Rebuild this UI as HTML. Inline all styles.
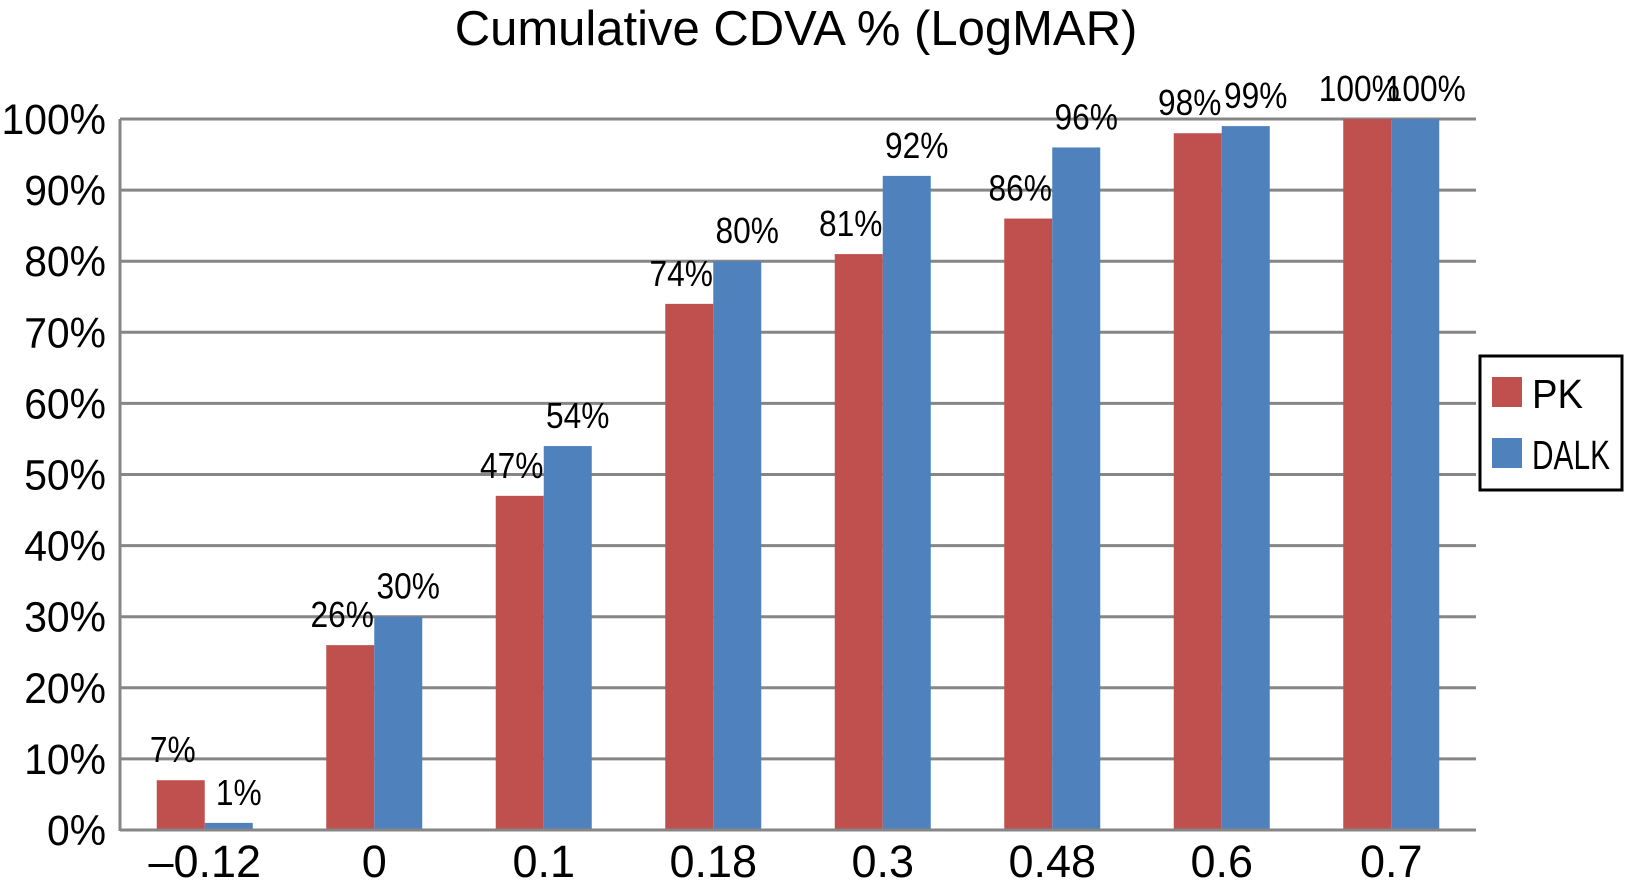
<!DOCTYPE html>
<html><head><meta charset="utf-8"><style>
html,body{margin:0;padding:0;background:#fff;}
svg{display:block;font-family:"Liberation Sans",Arial,sans-serif;}
</style></head><body>
<svg id="chart" width="1651" height="883" viewBox="0 0 1651 883">
<text x="796" y="45" font-size="49" text-anchor="middle" fill="#000">Cumulative CDVA % (LogMAR)</text>
<g id="grid"></g>
<g id="bars"></g>
<g id="labels"></g>
<g id="axes"></g>
<g>
<rect x="1480" y="356" width="142" height="134" fill="#fff" stroke="#000" stroke-width="3"/>
<rect x="1492" y="377" width="30" height="30" fill="#C0504D"/>
<text x="1532" y="408" font-size="41" textLength="51" lengthAdjust="spacingAndGlyphs">PK</text>
<rect x="1492" y="438" width="30" height="30" fill="#4F81BD"/>
<text x="1532" y="469" font-size="41" textLength="78" lengthAdjust="spacingAndGlyphs">DALK</text>
</g>
</svg>
<script>
const categories = ["\u20130.12","0","0.1","0.18","0.3","0.48","0.6","0.7"];
const pkValues = [7,26,47,74,81,86,98,100];
const dalkValues = [1,30,54,80,92,96,99,100];
const yTicks = [0,10,20,30,40,50,60,70,80,90,100];

const NS="http://www.w3.org/2000/svg";
const plotLeft=120,plotRight=1476,plotTop=119,plotBottom=830,yMax=100;
const bandW=(plotRight-plotLeft)/categories.length, barW=48;
function yScale(v){return plotBottom-(v/yMax)*(plotBottom-plotTop);}
function xc(i){return plotLeft+(i+0.5)*bandW;}
function mk(tag,attrs,parent,text){const e=document.createElementNS(NS,tag);for(const k in attrs)e.setAttribute(k,attrs[k]);if(text!==undefined)e.textContent=text;document.getElementById(parent).appendChild(e);return e;}
function condense(e,f){const w=e.getComputedTextLength();e.setAttribute('textLength',(w*f).toFixed(1));e.setAttribute('lengthAdjust','spacingAndGlyphs');}

yTicks.forEach(t=>{
  if(t>0){
    const g=mk('line',{x1:plotLeft,x2:plotRight,y1:yScale(t),y2:yScale(t),stroke:'#868686','stroke-width':3},'grid');
    
    
  }
  const l=mk('text',{x:106,y:yScale(t)+15,'font-size':43,'text-anchor':'end',fill:'#000'},'axes',t+'%');
  
  
  condense(l,0.95);
});

categories.forEach((c,i)=>{
  const cx=xc(i);
  const b1=mk('rect',{x:cx-barW,y:yScale(pkValues[i]),width:barW,height:plotBottom-yScale(pkValues[i]),fill:'#C0504D'},'bars');
  
  
  const b2=mk('rect',{x:cx,y:yScale(dalkValues[i]),width:barW,height:plotBottom-yScale(dalkValues[i]),fill:'#4F81BD'},'bars');
  
  
  const l1=mk('text',{x:cx-barW/2-8,y:yScale(pkValues[i])-18,'font-size':36,'text-anchor':'middle'},'labels',pkValues[i]+'%');
  
  
  condense(l1,0.88);
  const l2=mk('text',{x:cx+barW/2+10,y:yScale(dalkValues[i])-18,'font-size':36,'text-anchor':'middle'},'labels',dalkValues[i]+'%');
  
  
  condense(l2,0.88);
  const xl=mk('text',{x:cx,y:877,'font-size':45,'text-anchor':'middle'},'axes',c);
  
  
});

const ya=mk('line',{x1:plotLeft,x2:plotLeft,y1:plotTop,y2:plotBottom+1,stroke:'#868686','stroke-width':3},'axes');


const xa=mk('line',{x1:plotLeft,x2:plotRight,y1:plotBottom,y2:plotBottom,stroke:'#868686','stroke-width':3},'axes');


</script>
</body></html>
